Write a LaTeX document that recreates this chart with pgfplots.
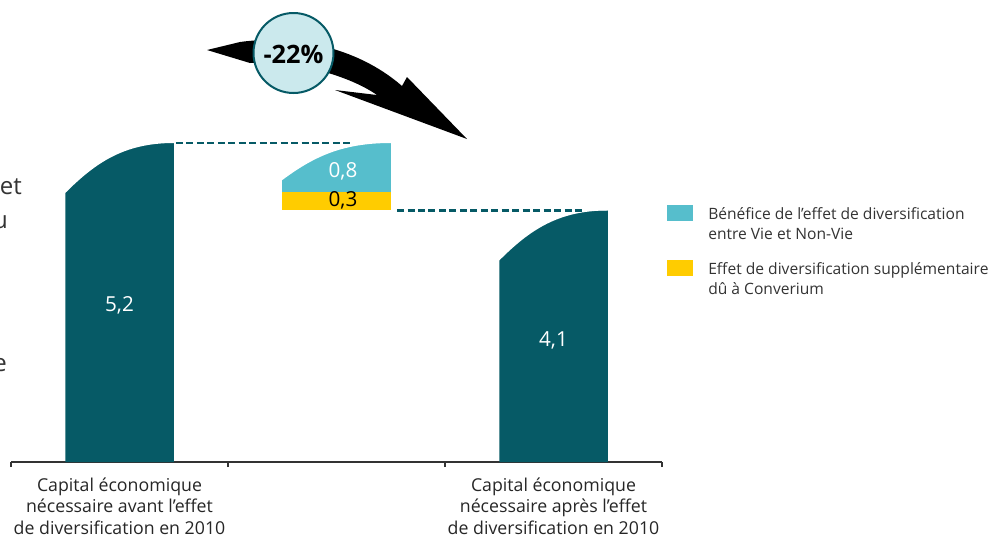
\documentclass[border=0pt]{standalone}
\usepackage{fontspec}
\setmainfont{Open Sans}
\usepackage{pgfplots}
\pgfplotsset{compat=1.18}

\definecolor{darkteal}{HTML}{065A66}
\definecolor{lightteal}{HTML}{56BECC}
\definecolor{gold}{HTML}{FFCC00}
\definecolor{circfill}{HTML}{CBE9ED}
\definecolor{txtgray}{HTML}{333333}

% white cut-outs that round off the top-left corner of a bar
% (mark origin = top centre of the bar, half bar width = 40.7pt)
\pgfdeclareplotmark{cutbig}{%
  \pgfpathmoveto{\pgfqpoint{-42pt}{2pt}}%
  \pgfpathlineto{\pgfqpoint{-42pt}{-37.5pt}}%
  \pgfpathlineto{\pgfqpoint{-40.7pt}{-37.5pt}}%
  \pgfpathcurveto{\pgfqpoint{-18.2pt}{-15pt}}{\pgfqpoint{3.2pt}{0pt}}{\pgfqpoint{40.7pt}{0pt}}%
  \pgfpathlineto{\pgfqpoint{40.7pt}{2pt}}%
  \pgfpathclose
  \pgfsetfillcolor{white}\pgfusepathqfill}
\pgfdeclareplotmark{cutsmall}{%
  \pgfpathmoveto{\pgfqpoint{-42pt}{2pt}}%
  \pgfpathlineto{\pgfqpoint{-42pt}{-27.8pt}}%
  \pgfpathlineto{\pgfqpoint{-40.7pt}{-27.8pt}}%
  \pgfpathcurveto{\pgfqpoint{-18.2pt}{-11.1pt}}{\pgfqpoint{3.2pt}{0pt}}{\pgfqpoint{40.7pt}{0pt}}%
  \pgfpathlineto{\pgfqpoint{40.7pt}{2pt}}%
  \pgfpathclose
  \pgfsetfillcolor{white}\pgfusepathqfill}

\pgfplotsset{
  waterfall/.style={
    scale only axis, width=488.25pt, height=346.5pt,
    at={(8.25pt,-346.5pt)}, anchor=south west,
    xmin=-0.5, xmax=2.5, ymin=0, ymax=7.531,
    clip=false,
  },
}

\begin{document}
\begin{tikzpicture}
\path[use as bounding box] (0pt,0pt) rectangle (741.75pt,-402.75pt);

% bars
\begin{axis}[
  waterfall,
  ybar stacked, bar width=0.5,
  axis x line*=bottom, axis y line=none,
  x axis line style={txtgray, line width=1.1pt},
  xtick={-0.5,0.5,1.5,2.5}, xticklabels={},
  xtick align=outside, major tick length=3.75pt,
  tick style={txtgray, line width=1.1pt},
  ytick=\empty,
  extra x ticks={0,2},
  extra x tick labels={{Capital économique\\nécessaire avant l’effet\\de diversification en 2010},
                       {Capital économique\\nécessaire après l’effet\\de diversification en 2010}},
  extra x tick style={major tick length=0pt,
    xticklabel style={align=center, font=\fontsize{13.3}{16}\selectfont, text=black!85, yshift=-8.5pt}},
]
\addplot[fill=darkteal, draw=none] coordinates {(0,5.2) (1,0) (2,4.1)};
\addplot[fill=none, draw=none] coordinates {(0,0) (1,4.1) (2,0)};
\addplot[fill=gold, draw=none] coordinates {(0,0) (1,0.3) (2,0)};
\addplot[fill=lightteal, draw=none] coordinates {(0,0) (1,0.8) (2,0)};
\end{axis}

% rounded tops
\begin{axis}[waterfall, hide axis]
\addplot[only marks, mark=cutbig] coordinates {(0,5.2) (2,4.1)};
\addplot[only marks, mark=cutsmall] coordinates {(1,5.2)};
\end{axis}

% connectors, value labels, legend
\begin{axis}[
  waterfall, hide axis,
  legend cell align=left,
  legend style={at={(1.0077,0.556)}, anchor=north west, draw=none, fill=none,
    inner sep=0pt, row sep=14pt, column sep=0pt,
    nodes={inner sep=0pt, align=left, font=\fontsize{11.7}{15}\selectfont, text=txtgray}},
]
\addplot[forget plot, darkteal, line width=2.2pt, dash pattern=on 5.25pt off 2.6pt, no marks]
  coordinates {(0.26,5.2) (1.062,5.2)};
\addplot[forget plot, darkteal, line width=2.2pt, dash pattern=on 5.25pt off 2.6pt, no marks]
  coordinates {(1.279,4.1) (2.145,4.1)};

\node[text=white, font=\fontsize{15.5}{15.5}\selectfont] at (axis cs:0,2.56) {5,2};
\node[text=white, font=\fontsize{15.5}{15.5}\selectfont] at (axis cs:2,1.99) {4,1};
\node[text=white, font=\fontsize{15.5}{15.5}\selectfont] at (axis cs:1.03,4.73) {0,8};
\node[text=black, font=\fontsize{15.5}{15.5}\selectfont] at (axis cs:1.03,4.27) {0,3};

\addlegendimage{legend image code/.code={
  \fill[lightteal, draw=none] (0pt,2.25pt) rectangle (19.5pt,14.25pt);
  \path[draw=none, fill=none] (0pt,0pt) rectangle (30.75pt,1pt);}}
\addlegendentry{Bénéfice de l’effet de diversification\\entre Vie et Non-Vie}
\addlegendimage{legend image code/.code={
  \fill[gold, draw=none] (0pt,2.25pt) rectangle (19.5pt,14.25pt);
  \path[draw=none, fill=none] (0pt,0pt) rectangle (30.75pt,1pt);}}
\addlegendentry{Effet de diversification supplémentaire\\dû à Converium}
\end{axis}

% arrow and percentage badge, text cut off at the left edge (pixel coordinates)
\begin{scope}[x=0.75pt, y=-0.75pt]
  \fill[black] (207,50) -- (240,42) .. controls (290,35) and (355,45) .. (402,86)
    -- (407,77) -- (467,139) -- (335,90) -- (377,95)
    .. controls (350,76) and (295,60) .. (250,63) -- cycle;
  \draw[fill=circfill, draw=darkteal, line width=1.5pt] (293.5,53) circle[radius=30pt];
  \node[font=\fontsize{19}{19}\selectfont\bfseries] at (293.5,54) {-22\%};
  \node[anchor=base east, text=txtgray, font=\fontsize{18}{18}\selectfont, inner sep=0pt] at (22,194) {et};
  \node[anchor=base east, text=txtgray, font=\fontsize{18}{18}\selectfont, inner sep=0pt] at (8,228) {du};
  \node[anchor=base east, text=txtgray, font=\fontsize{18}{18}\selectfont, inner sep=0pt] at (7,371) {le};
\end{scope}
\end{tikzpicture}
\end{document}
